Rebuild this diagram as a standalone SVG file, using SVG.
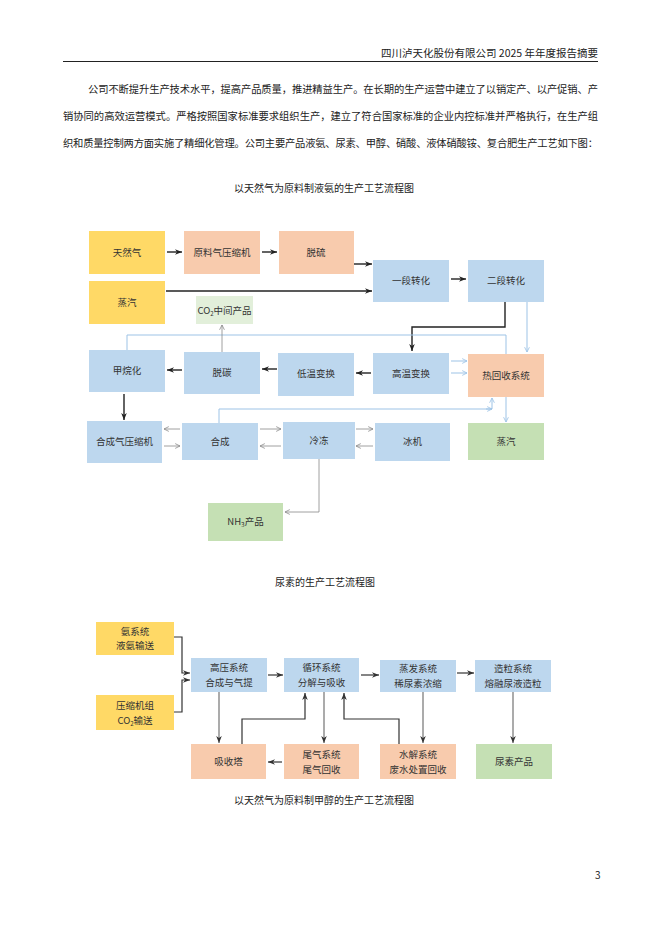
<svg xmlns="http://www.w3.org/2000/svg" width="662" height="936" viewBox="0 0 662 936">
<style>
.pg{font-family:"Noto Sans CJK SC","Liberation Serif",serif;fill:#222}
.bx{font-family:"Noto Sans CJK SC","Liberation Sans",sans-serif;font-size:9.5px;fill:#333;text-anchor:middle}
.y{fill:#FFD966}.s{fill:#F8CBAD}.b{fill:#BDD7EE}.g{fill:#C5E0B4}.lg{fill:#E2EFDA}
.k{stroke:#222;stroke-width:1.4;fill:none}
.t{stroke:#888;stroke-width:0.8;fill:none}
.l{stroke:#9DC3E6;stroke-width:1;fill:none}
.d{stroke:#333;stroke-width:1.2;fill:none}
.dg{stroke:#666;stroke-width:1.1;fill:none}
</style>
<defs>
<marker id="ak" viewBox="0 0 10 10" refX="10" refY="5" markerWidth="7" markerHeight="7" orient="auto" markerUnits="userSpaceOnUse"><path d="M0,1 L10,5 L0,9 L3,5 z" fill="#222"/></marker>
<marker id="at" viewBox="0 0 10 10" refX="9" refY="5" markerWidth="6" markerHeight="6" orient="auto" markerUnits="userSpaceOnUse"><path d="M1,1 L9,5 L1,9" fill="none" stroke="#888" stroke-width="1.3"/></marker>
<marker id="al" viewBox="0 0 10 10" refX="9" refY="5" markerWidth="6" markerHeight="6" orient="auto" markerUnits="userSpaceOnUse"><path d="M1,1 L9,5 L1,9" fill="none" stroke="#9DC3E6" stroke-width="1.4"/></marker>
<marker id="ad" viewBox="0 0 10 10" refX="10" refY="5" markerWidth="7" markerHeight="7" orient="auto" markerUnits="userSpaceOnUse"><path d="M0,1 L10,5 L0,9 L3,5 z" fill="#333"/></marker>
</defs>
<rect width="662" height="936" fill="#fff"/>

<!-- header -->
<text class="pg" x="598" y="57" font-size="10.5" text-anchor="end">四川泸天化股份有限公司 2025 年年度报告摘要</text>
<line x1="63" y1="61.5" x2="598" y2="61.5" stroke="#222" stroke-width="1"/>

<!-- paragraph -->
<text class="pg" font-size="10.3" x="88" y="93" textLength="510" lengthAdjust="spacing">公司不断提升生产技术水平，提高产品质量，推进精益生产。在长期的生产运营中建立了以销定产、以产促销、产</text>
<text class="pg" font-size="10.3" x="63" y="120" textLength="535" lengthAdjust="spacing">销协同的高效运营模式。严格按照国家标准要求组织生产，建立了符合国家标准的企业内控标准并严格执行，在生产组</text>
<text class="pg" font-size="10.3" x="63" y="147" textLength="535" lengthAdjust="spacing">织和质量控制两方面实施了精细化管理。公司主要产品液氨、尿素、甲醇、硝酸、液体硝酸铵、复合肥生产工艺如下图：</text>

<text class="pg" font-size="10" x="324" y="192" text-anchor="middle">以天然气为原料制液氨的生产工艺流程图</text>

<!-- diagram 1 connectors -->
<g id="connectors1">
<line class="k" x1="167" y1="252" x2="182" y2="252" marker-end="url(#ak)"/>
<line class="k" x1="262" y1="252" x2="277" y2="252" marker-end="url(#ak)"/>
<line class="k" x1="354" y1="264" x2="372" y2="264" marker-end="url(#ak)"/>
<line class="k" x1="166" y1="291" x2="372" y2="291" marker-end="url(#ak)"/>
<line class="k" x1="451" y1="279" x2="466" y2="279" marker-end="url(#ak)"/>
<polyline class="k" points="505,302 505,327 412,327 412,351" marker-end="url(#ak)"/>
<line class="k" x1="371" y1="373" x2="356" y2="373" marker-end="url(#ak)"/>
<line class="k" x1="277" y1="369" x2="262" y2="369" marker-end="url(#ak)"/>
<line class="k" x1="182" y1="370" x2="167" y2="370" marker-end="url(#ak)"/>
<line class="k" x1="124" y1="394" x2="124" y2="420" marker-end="url(#ak)"/>

<line class="l" x1="527" y1="302" x2="527" y2="352" marker-end="url(#al)"/>
<polyline class="l" points="127,350 127,335 506,335 506,354"/>
<line class="l" x1="451" y1="361" x2="467" y2="361" marker-end="url(#al)"/>
<line class="l" x1="451" y1="373" x2="467" y2="373" marker-end="url(#al)"/>
<line class="l" x1="506" y1="397" x2="506" y2="422" marker-end="url(#al)"/>
<polyline class="l" points="219,423 219,409 492,409 492,398" marker-end="url(#al)"/>
<line class="l" x1="486" y1="409" x2="492" y2="409" marker-end="url(#al)"/>

<line class="t" x1="222" y1="352" x2="222" y2="325" marker-end="url(#at)"/>
<line class="t" x1="180" y1="429" x2="164" y2="429" marker-end="url(#at)"/>
<line class="t" x1="164" y1="446" x2="180" y2="446" marker-end="url(#at)"/>
<line class="t" x1="260" y1="429" x2="281" y2="429" marker-end="url(#at)"/>
<line class="t" x1="281" y1="446" x2="260" y2="446" marker-end="url(#at)"/>
<line class="t" x1="356" y1="429" x2="373" y2="429" marker-end="url(#at)"/>
<line class="t" x1="373" y1="446" x2="356" y2="446" marker-end="url(#at)"/>
<polyline class="t" points="319,459 319,512 285,512" marker-end="url(#at)"/>
</g>

<!-- diagram 1 nodes -->
<g id="n-tianranqi"><rect class="y" x="89" y="231" width="76" height="43"/><text class="bx" x="127" y="256">天然气</text></g>
<g id="n-yuanliaoqi"><rect class="s" x="184" y="231" width="76" height="43"/><text class="bx" x="222" y="256">原料气压缩机</text></g>
<g id="n-tuoliu"><rect class="s" x="279" y="231" width="75" height="43"/><text class="bx" x="316" y="256">脱硫</text></g>
<g id="n-zhengqi1"><rect class="y" x="89" y="281" width="76" height="43"/><text class="bx" x="127" y="306">蒸汽</text></g>
<g id="n-co2"><rect class="lg" x="196" y="296" width="57" height="28"/><text class="bx" x="224.5" y="314" font-size="9">CO<tspan font-size="6" dy="2">2</tspan><tspan dy="-2">中间产品</tspan></text></g>
<g id="n-yiduan"><rect class="b" x="373" y="260" width="76" height="42"/><text class="bx" x="411" y="284">一段转化</text></g>
<g id="n-erduan"><rect class="b" x="468" y="260" width="76" height="42"/><text class="bx" x="506" y="284">二段转化</text></g>
<g id="n-jiawan"><rect class="b" x="89" y="350" width="76" height="42"/><text class="bx" x="127" y="374">甲烷化</text></g>
<g id="n-tuotan"><rect class="b" x="184" y="352" width="76" height="42"/><text class="bx" x="222" y="376">脱碳</text></g>
<g id="n-diwen"><rect class="b" x="278" y="353" width="76" height="43"/><text class="bx" x="316" y="377">低温变换</text></g>
<g id="n-gaowen"><rect class="b" x="373" y="353" width="76" height="41"/><text class="bx" x="411" y="377">高温变换</text></g>
<g id="n-rehuishou"><rect class="s" x="468" y="354" width="76" height="43"/><text class="bx" x="506" y="379">热回收系统</text></g>
<g id="n-hechengqi"><rect class="b" x="87" y="421" width="75" height="42"/><text class="bx" x="124.5" y="445">合成气压缩机</text></g>
<g id="n-hecheng"><rect class="b" x="182" y="423" width="76" height="37"/><text class="bx" x="220" y="445">合成</text></g>
<g id="n-lengdong"><rect class="b" x="283" y="422" width="72" height="37"/><text class="bx" x="319" y="444">冷冻</text></g>
<g id="n-bingji"><rect class="b" x="375" y="423" width="75" height="38"/><text class="bx" x="412.5" y="445">冰机</text></g>
<g id="n-zhengqi2"><rect class="g" x="468" y="423" width="76" height="37"/><text class="bx" x="506" y="445">蒸汽</text></g>
<g id="n-nh3"><rect class="g" x="208" y="503" width="75" height="38"/><text class="bx" x="245.5" y="525">NH<tspan font-size="6.5" dy="2">3</tspan><tspan dy="-2">产品</tspan></text></g>

<text class="pg" font-size="10" x="325" y="586" text-anchor="middle">尿素的生产工艺流程图</text>

<!-- diagram 2 connectors -->
<g id="connectors2">
<polyline class="d" points="174,637 182,637 182,673 190,673" marker-end="url(#ad)"/>
<polyline class="d" points="174,712 182,712 182,680 190,680" marker-end="url(#ad)"/>
<line class="d" x1="268" y1="675" x2="283" y2="675" marker-end="url(#ad)"/>
<line class="d" x1="361" y1="675" x2="379" y2="675" marker-end="url(#ad)"/>
<line class="d" x1="457" y1="673" x2="474" y2="673" marker-end="url(#ad)"/>
<line class="dg" x1="219" y1="692" x2="219" y2="743" marker-end="url(#ad)"/>
<polyline class="d" points="242,744 242,719 305,719 305,693" marker-end="url(#ad)"/>
<line class="dg" x1="324" y1="692" x2="324" y2="743" marker-end="url(#ad)"/>
<line class="d" x1="282" y1="762" x2="268" y2="762" marker-end="url(#ad)"/>
<polyline class="d" points="399,744 399,719 344,719 344,693" marker-end="url(#ad)"/>
<line class="dg" x1="423" y1="692" x2="423" y2="743" marker-end="url(#ad)"/>
<line class="dg" x1="513" y1="692" x2="513" y2="743" marker-end="url(#ad)"/>
</g>

<!-- diagram 2 nodes -->
<g id="u-anxitong"><rect class="y" x="96" y="622" width="78" height="33"/><text class="bx" x="135" y="635">氨系统</text><text class="bx" x="135" y="649">液氨输送</text></g>
<g id="u-yasuoji"><rect class="y" x="96" y="695" width="78" height="35"/><text class="bx" x="135" y="709">压缩机组</text><text class="bx" x="135" y="724">CO<tspan font-size="6" dy="2">2</tspan><tspan dy="-2">输送</tspan></text></g>
<g id="u-gaoya"><rect class="b" x="191" y="658" width="76" height="34"/><text class="bx" x="229" y="671">高压系统</text><text class="bx" x="229" y="686">合成与气提</text></g>
<g id="u-xunhuan"><rect class="b" x="284" y="658" width="75" height="34"/><text class="bx" x="321.5" y="671">循环系统</text><text class="bx" x="321.5" y="686">分解与吸收</text></g>
<g id="u-zhengfa"><rect class="b" x="380" y="660" width="76" height="32"/><text class="bx" x="418" y="672">蒸发系统</text><text class="bx" x="418" y="687">稀尿素浓缩</text></g>
<g id="u-zaoli"><rect class="b" x="475" y="660" width="76" height="32"/><text class="bx" x="513" y="672">造粒系统</text><text class="bx" x="513" y="687">熔融尿液造粒</text></g>
<g id="u-xishouta"><rect class="s" x="191" y="744" width="75" height="35"/><text class="bx" x="228.5" y="765">吸收塔</text></g>
<g id="u-weiqi"><rect class="s" x="284" y="744" width="75" height="35"/><text class="bx" x="321.5" y="758">尾气系统</text><text class="bx" x="321.5" y="773">尾气回收</text></g>
<g id="u-shuijie"><rect class="s" x="380" y="744" width="76" height="35"/><text class="bx" x="418" y="758">水解系统</text><text class="bx" x="418" y="773">废水处置回收</text></g>
<g id="u-niaosu"><rect class="g" x="476" y="744" width="76" height="35"/><text class="bx" x="514" y="765">尿素产品</text></g>

<text class="pg" font-size="10" x="324" y="804" text-anchor="middle">以天然气为原料制甲醇的生产工艺流程图</text>
<text class="pg" font-size="10" x="595" y="879" font-family="Liberation Serif">3</text>
</svg>
